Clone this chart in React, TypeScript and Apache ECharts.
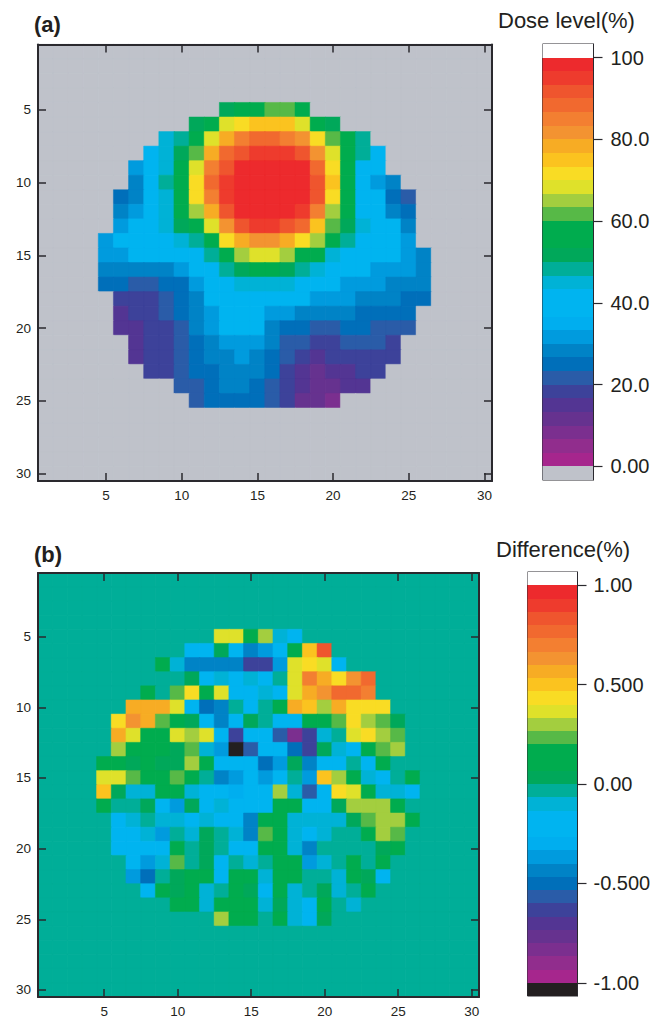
import React, { useEffect, useRef } from "react";
import * as echarts from "echarts";

// Colour steps of the scale, lowest band first
const bandColors = [
  "#A6268D", "#912D8D", "#7B2F8F", "#66328F", "#533593", "#3D429A", "#2A5CA8", "#006FBA", "#0083C6", "#009BDE",
  "#00AEEF", "#00B4F0", "#00B4F0", "#00B2D6", "#00AE98", "#00A85A", "#00AC4E", "#00AC4E", "#57B947", "#A3CE3F",
  "#DFE12A", "#F9DC24", "#FBC31F", "#F7AC24", "#F39331", "#F37F31", "#F1692F", "#EF552E", "#EE3B2D", "#ED2A2D",
];
const doseUnderColor = "#BFC2CA";
const diffUnderColor = "#231F20";
const overColor = "#FFFFFF";

const gridCells = Array.from({ length: 30 }, (_, i) => String(i + 1));

// Band index of every cell, row by row; a row starts at the given column
const firstDataRow = 5;
const doseFirstCol = [13, 11, 9, 8, 7, 7, 6, 6, 6, 5, 5, 5, 5, 6, 6, 6, 7, 7, 8, 10, 11];
const doseRows = [
  [15, 16, 16, 18, 18, 16],
  [15, 16, 20, 21, 22, 22, 22, 20, 16, 15],
  [13, 14, 16, 20, 23, 25, 26, 26, 25, 24, 21, 18, 16, 14],
  [11, 13, 15, 18, 23, 26, 27, 28, 28, 28, 27, 24, 20, 16, 14, 11],
  [9, 11, 13, 16, 20, 25, 27, 29, 29, 29, 29, 29, 26, 21, 16, 11, 11],
  [8, 11, 14, 16, 21, 26, 28, 29, 29, 29, 29, 29, 27, 22, 16, 11, 9, 8],
  [7, 8, 11, 13, 16, 21, 25, 28, 29, 29, 29, 29, 29, 27, 21, 16, 11, 11, 7, 6],
  [8, 9, 11, 13, 16, 19, 23, 27, 29, 29, 29, 29, 28, 25, 19, 16, 11, 11, 8, 7],
  [9, 11, 11, 13, 15, 16, 20, 24, 27, 28, 28, 27, 26, 22, 18, 15, 13, 11, 11, 8],
  [9, 11, 11, 11, 11, 13, 14, 16, 21, 23, 24, 24, 23, 21, 19, 16, 14, 11, 11, 11, 9],
  [9, 9, 11, 11, 11, 11, 11, 14, 16, 19, 20, 20, 19, 16, 16, 13, 11, 11, 11, 11, 9, 8],
  [8, 8, 8, 8, 8, 9, 11, 11, 14, 15, 16, 16, 15, 14, 13, 11, 11, 11, 9, 9, 9, 8],
  [7, 7, 6, 6, 7, 7, 9, 11, 11, 13, 13, 13, 13, 11, 11, 11, 9, 9, 9, 8, 8, 8],
  [5, 5, 5, 6, 7, 8, 11, 11, 11, 11, 11, 11, 11, 9, 9, 9, 8, 8, 8, 7, 7],
  [4, 5, 5, 6, 7, 8, 9, 11, 11, 11, 9, 9, 8, 8, 8, 8, 7, 7, 7, 7],
  [4, 4, 5, 5, 6, 8, 9, 11, 11, 11, 8, 7, 7, 6, 6, 7, 7, 6, 6, 6],
  [4, 5, 5, 6, 7, 8, 9, 9, 9, 8, 6, 6, 5, 5, 6, 6, 6, 5],
  [4, 5, 5, 6, 7, 8, 8, 9, 8, 7, 6, 5, 4, 5, 5, 5, 5, 5],
  [5, 5, 6, 7, 7, 8, 8, 8, 7, 5, 4, 3, 4, 4, 5, 5],
  [6, 6, 7, 8, 8, 7, 6, 5, 4, 3, 3, 4, 4],
  [6, 7, 7, 7, 7, 6, 5, 3, 3, 2],
];
const doseOutside = -1;

const diffFirstCol = [13, 11, 9, 11, 8, 7, 6, 6, 6, 5, 5, 5, 5, 6, 6, 6, 7, 7, 8, 10, 13];
const diffRows = [
  [20, 20, 16, 19, 13, 11],
  [11, 11, 15, 11, 8, 9, 11, 16, 22, 27],
  [16, 13, 8, 8, 8, 8, 5, 5, 9, 20, 21, 20, 11],
  [15, 11, 13, 11, 13, 11, 14, 20, 25, 23, 21, 24, 26],
  [16, 14, 18, 21, 16, 20, 11, 11, 13, 11, 20, 23, 24, 26, 26, 25],
  [23, 23, 23, 20, 11, 7, 8, 14, 11, 14, 16, 23, 22, 19, 23, 21, 21, 21],
  [21, 24, 23, 18, 16, 15, 11, 8, 11, 15, 14, 11, 11, 16, 16, 18, 21, 19, 18, 15],
  [23, 20, 16, 16, 20, 19, 20, 11, 5, 11, 11, 6, 2, 5, 13, 14, 20, 21, 19, 18],
  [19, 16, 16, 16, 15, 18, 13, 9, -1, 6, 11, 11, 7, 5, 15, 13, 11, 16, 18, 19],
  [16, 16, 15, 16, 15, 15, 19, 16, 11, 11, 11, 7, 9, 15, 8, 11, 11, 14, 11, 16],
  [20, 20, 18, 16, 16, 18, 16, 14, 8, 9, 11, 9, 11, 14, 9, 22, 19, 16, 13, 11, 14, 16],
  [22, 15, 13, 13, 16, 16, 13, 11, 11, 10, 11, 11, 19, 13, 6, 11, 21, 20, 16, 13, 13, 11],
  [16, 14, 14, 15, 11, 9, 15, 11, 13, 11, 11, 11, 16, 16, 11, 11, 15, 19, 19, 19, 16],
  [11, 13, 14, 13, 13, 11, 13, 11, 11, 8, 16, 16, 13, 13, 13, 13, 15, 18, 19, 19, 16],
  [11, 11, 13, 9, 14, 13, 15, 14, 13, 8, 18, 16, 13, 11, 13, 14, 14, 16, 19, 18],
  [11, 11, 11, 11, 16, 14, 15, 14, 11, 11, 16, 16, 13, 8, 14, 14, 14, 14, 15, 16],
  [11, 9, 13, 18, 14, 15, 11, 14, 13, 14, 16, 16, 9, 13, 14, 16, 14, 16],
  [9, 7, 14, 15, 16, 16, 11, 16, 16, 13, 16, 16, 14, 14, 13, 16, 15, 11],
  [11, 16, 15, 16, 13, 14, 16, 15, 11, 16, 13, 14, 15, 13, 14, 16],
  [16, 16, 13, 16, 16, 16, 13, 15, 13, 11, 16, 14, 13],
  [19, 16, 16, 14, 16, 13, 11, 15],
];
const diffOutside = 14;

const doseScaleMin = 0;
const doseScaleMax = 100;
const doseTickValues = [0, 20, 40, 60, 80, 100];
const doseTickLabels = ["0.00", "20.0", "40.0", "60.0", "80.0", "100"];

const diffScaleMin = -1;
const diffScaleMax = 1;
const diffTickValues = [-1, -0.5, 0, 0.5, 1];
const diffTickLabels = ["-1.00", "-0.500", "0.00", "0.500", "1.00"];

const FRAME = "#2A292E";
const TEXT = "#231F20";
const FONT = "'Liberation Sans', Arial, sans-serif";

function heatCells(rows: number[][], firstCols: number[], outside: number, under: string) {
  const out: any[] = [];
  for (let y = 0; y < 30; y++) {
    for (let x = 0; x < 30; x++) {
      const rowIdx = y + 1 - firstDataRow;
      const row = rows[rowIdx];
      let v = outside;
      if (row) {
        const k = x + 1 - firstCols[rowIdx];
        if (k >= 0 && k < row.length) v = row[k];
      }
      const color = v < 0 ? under : bandColors[v];
      out.push({ value: [x, y, v], itemStyle: { borderColor: color, borderWidth: 0.5 } });
    }
  }
  return out;
}

function scaleBands(min: number, max: number, under: string) {
  const step = (max - min) / bandColors.length;
  const bands: any[] = [[min - step, min, under]];
  bandColors.forEach((c, i) => bands.push([min + i * step, min + (i + 1) * step, c]));
  bands.push([max, max + step, overColor]);
  return bands;
}

function pieces(under: string) {
  return [{ value: -1, color: under }, ...bandColors.map((color, value) => ({ value, color }))];
}

const everyFifth = (i: number) => (i + 1) % 5 === 0;

function panelAxes(gridIndex: number) {
  const line = { show: true, onZero: false, lineStyle: { color: FRAME, width: 2 } };
  const tick = { show: true, inside: true, length: 8, interval: everyFifth, alignWithLabel: true, lineStyle: { color: FRAME, width: 1.5 } };
  const label = { interval: everyFifth, color: TEXT, fontFamily: FONT, fontSize: 13.5, margin: 7 };
  const base = { type: "category", gridIndex, data: gridCells, boundaryGap: true, splitLine: { show: false }, z: 10 };
  return {
    x: [
      { ...base, position: "bottom", axisLine: line, axisTick: tick, axisLabel: label },
      { ...base, position: "top", axisLine: line, axisTick: tick, axisLabel: { show: false } },
    ],
    y: [
      { ...base, inverse: true, position: "left", axisLine: line, axisTick: tick, axisLabel: label },
      { ...base, inverse: true, position: "right", axisLine: line, axisTick: tick, axisLabel: { show: false } },
    ],
  };
}

function barAxes(gridIndex: number, min: number, max: number, values: number[], labels: string[], margin: number) {
  const step = (max - min) / bandColors.length;
  return {
    x: { type: "value", gridIndex, min: 0, max: 1, show: false },
    y: {
      type: "value",
      gridIndex,
      position: "right",
      z: 10,
      min: min - step,
      max: max + step,
      splitLine: { show: false },
      axisLine: { show: true, onZero: false, lineStyle: { color: FRAME, width: 1 } },
      axisTick: { show: true, length: 9, customValues: values, lineStyle: { color: FRAME, width: 1.2 } },
      axisLabel: {
        show: true,
        customValues: values,
        margin,
        align: "left",
        color: TEXT,
        fontFamily: FONT,
        fontSize: 20,
        formatter: (v: number) => labels[values.findIndex((t) => Math.abs(t - v) < 1e-6)] ?? "",
      },
    },
  };
}

function barSeries(index: number, bands: any[]) {
  return {
    type: "custom",
    xAxisIndex: index,
    yAxisIndex: index,
    silent: true,
    clip: false,
    data: bands,
    encode: { y: [0, 1] },
    renderItem: (params: any, api: any) => {
      const low = api.coord([0, api.value(0)]);
      const high = api.coord([1, api.value(1)]);
      return {
        type: "rect",
        shape: {
          x: low[0],
          y: Math.round(high[1]),
          width: high[0] - low[0],
          height: Math.round(low[1]) - Math.round(high[1]),
        },
        style: { fill: bands[params.dataIndex][2] },
      };
    },
  };
}

export default function App() {
  const ref = useRef<HTMLDivElement>(null);
  useEffect(() => {
    document.body.style.margin = "0";
    const chart = echarts.init(ref.current!, null, { renderer: "svg" });
    const a = panelAxes(0);
    const b = panelAxes(1);
    const barA = barAxes(2, doseScaleMin, doseScaleMax, doseTickValues, doseTickLabels, 17);
    const barB = barAxes(3, diffScaleMin, diffScaleMax, diffTickValues, diffTickLabels, 16);
    const gridBar = { show: true, backgroundColor: "#fff", borderColor: FRAME, borderWidth: 1 };
    chart.setOption({
      animation: false,
      backgroundColor: "#fff",
      grid: [
        { left: 38, top: 44.5, width: 454, height: 436.5, show: false },
        { left: 38, top: 573, width: 441, height: 424, show: false },
        { left: 542.5, top: 44, width: 51, height: 436, ...gridBar },
        { left: 527.5, top: 572, width: 50, height: 424, ...gridBar },
      ],
      xAxis: [a.x[0], a.x[1], b.x[0], b.x[1], barA.x, barB.x],
      yAxis: [a.y[0], a.y[1], b.y[0], b.y[1], barA.y, barB.y],
      visualMap: [
        { type: "piecewise", show: false, seriesIndex: 0, dimension: 2, pieces: pieces(doseUnderColor) },
        { type: "piecewise", show: false, seriesIndex: 1, dimension: 2, pieces: pieces(diffUnderColor) },
      ],
      series: [
        { type: "heatmap", xAxisIndex: 0, yAxisIndex: 0, silent: true, data: heatCells(doseRows, doseFirstCol, doseOutside, doseUnderColor), z: 1 },
        { type: "heatmap", xAxisIndex: 2, yAxisIndex: 2, silent: true, data: heatCells(diffRows, diffFirstCol, diffOutside, diffUnderColor), z: 1 },
        barSeries(4, scaleBands(doseScaleMin, doseScaleMax, doseUnderColor)),
        barSeries(5, scaleBands(diffScaleMin, diffScaleMax, diffUnderColor)),
      ],
      title: [
        { text: "(a)", left: 34, top: 13, padding: 0, textStyle: { fontFamily: FONT, fontSize: 22, fontWeight: "bold", color: TEXT } },
        { text: "(b)", left: 34, top: 543, padding: 0, textStyle: { fontFamily: FONT, fontSize: 22, fontWeight: "bold", color: TEXT } },
        { text: "Dose level(%)", left: 498, top: 9, padding: 0, textStyle: { fontFamily: FONT, fontSize: 22, fontWeight: "normal", color: TEXT } },
        { text: "Difference(%)", left: 496, top: 538, padding: 0, textStyle: { fontFamily: FONT, fontSize: 22, fontWeight: "normal", color: TEXT } },
      ],
    });
    return () => chart.dispose();
  }, []);
  return <div ref={ref} style={{ width: 662, height: 1019 }} />;
}
